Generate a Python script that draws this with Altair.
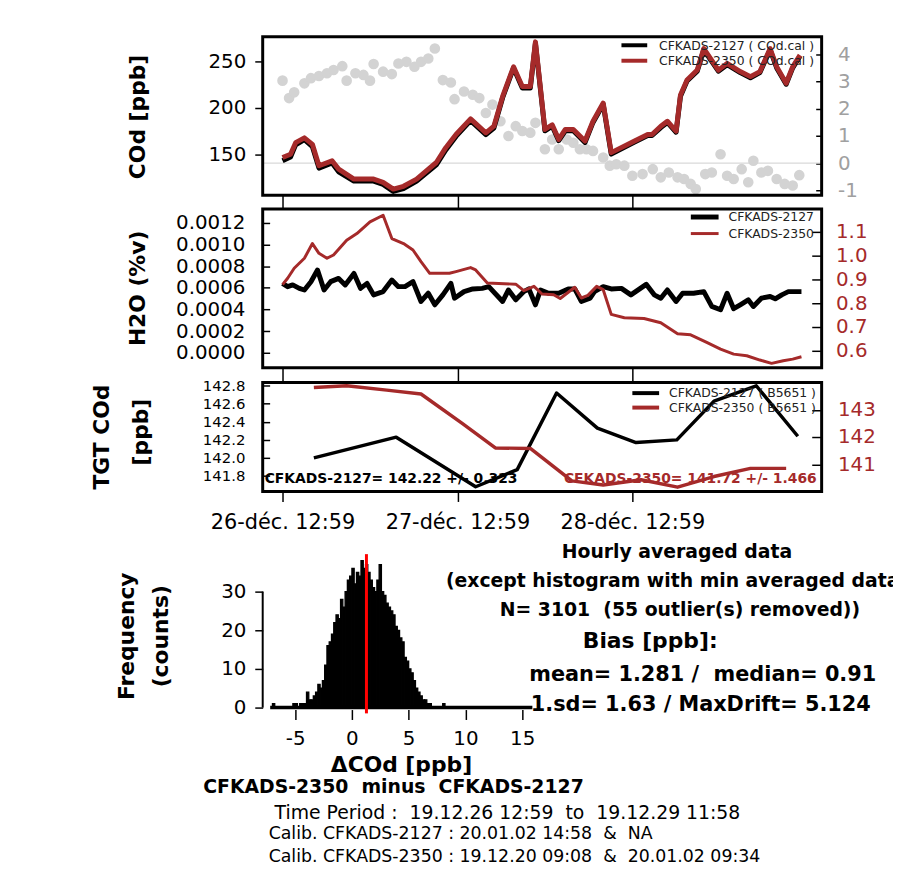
import altair as alt
import pandas as pd

# ---------------- data ----------------
TICK_HOURS = [0, 24, 48]
TICK_LABELS = ["26-déc. 12:59", "27-déc. 12:59", "28-déc. 12:59"]

cod_hours = [0, 1.1, 1.8, 3.0, 4.1, 5.0, 6.8, 7.7, 9.8, 12.5, 13.8, 15.2, 16.6, 18.4, 21.1, 22.4, 23.8, 25.8,
             27.9, 29.0, 30.2, 31.7, 32.9, 34.0, 34.7, 36.0, 37.0, 37.9, 38.8, 39.9, 41.5, 42.6, 44.0, 45.1,
             48.3, 50.1, 50.7, 51.9, 52.8, 54.0, 54.6, 55.5, 56.9, 57.8, 59.8, 61.0, 62.8, 64.2, 65.5, 66.9,
             67.8, 69.1, 70.0, 71.0]
cod_2350 = [146.8, 150.3, 162.8, 168.0, 161.0, 138.0, 143.3, 134.4, 123.7, 123.7, 120.2, 113.0, 116.0, 123.7,
            141.5, 157.4, 171.6, 188.3, 173.4, 180.5, 212.4, 244.3, 223.0, 223.0, 271.0, 177.0, 182.0, 166.3,
            177.0, 177.0, 164.6, 185.8, 205.3, 152.1, 164.6, 171.6, 171.6, 180.5, 185.8, 175.2, 214.0, 230.0,
            240.7, 263.8, 240.7, 247.9, 239.1, 233.7, 239.1, 263.8, 244.3, 226.6, 244.3, 256.7]
cod_2127 = [143.5, 147.5, 160.5, 166.0, 158.5, 135.5, 141.0, 131.5, 121.5, 121.5, 118.0, 110.5, 113.5, 121.5,
            139.0, 155.0, 169.5, 186.5, 171.5, 178.5, 211.0, 243.0, 221.5, 221.5, 269.5, 175.5, 180.5, 165.0,
            175.5, 175.5, 163.0, 184.5, 204.0, 150.5, 163.5, 170.5, 170.5, 179.0, 184.5, 174.0, 212.5, 229.0,
            239.5, 262.5, 239.5, 246.5, 238.0, 232.5, 238.0, 262.5, 243.0, 225.5, 243.0, 255.5]

diff_hours = [0, 0.9, 1.6, 3.0, 3.9, 5.0, 6.1, 7.0, 8.2, 8.8, 10.0, 11.1, 12.0, 12.5, 13.8, 15.0, 15.9, 17.0,
              18.1, 19.0, 20.0, 20.9, 22.0, 23.1, 23.6, 24.9, 26.1, 27.0, 27.9, 28.8, 29.9, 31.0, 32.0, 32.9,
              34.0, 34.7, 36.0, 37.0, 37.9, 39.0, 39.9, 40.8, 41.7, 42.6, 44.0, 44.9, 45.8, 46.9, 48.0, 49.4,
              50.8, 51.9, 53.0, 54.2, 55.1, 56.0, 56.7, 58.0, 58.9, 60.1, 61.0, 61.9, 63.0, 63.9, 64.6, 65.7,
              66.6, 67.8, 68.9, 70.0, 70.9]
diff_vals = [3.03, 2.39, 2.6, 2.93, 3.12, 3.2, 3.3, 3.42, 3.56, 3.03, 3.3, 3.24, 3.03, 3.64, 3.36, 3.27, 3.66,
             3.72, 3.54, 3.72, 3.84, 4.21, 3.05, 2.96, 2.35, 2.63, 2.51, 2.39, 1.84, 2.15, 1.54, 1.0, 1.36,
             1.18, 1.12, 1.48, 0.51, 0.87, 0.51, 0.87, 0.75, 0.51, 0.51, 0.45, 0.21, -0.09, -0.04, -0.09,
             -0.46, -0.4, -0.22, -0.52, -0.34, -0.52, -0.58, -0.76, -0.95, -0.4, -0.34, 0.33, -0.46, -0.58,
             -0.22, -0.7, 0.09, -0.34, -0.28, -0.58, -0.76, -0.82, -0.44]

h2o_2127_hours = [0, 0.7, 1.4, 2.3, 3.0, 3.9, 4.8, 5.7, 6.6, 7.7, 8.6, 9.8, 10.7, 11.6, 12.5, 13.8, 15.0, 15.9,
                  16.8, 17.9, 19.0, 20.0, 20.9, 22.0, 23.1, 23.6, 24.9, 26.1, 27.4, 28.3, 30.2, 31.0, 32.0,
                  33.1, 33.8, 34.7, 35.4, 36.5, 37.9, 39.2, 40.1, 41.0, 42.2, 42.8, 44.0, 45.1, 46.5, 47.8,
                  49.9, 51.0, 51.9, 52.8, 54.0, 54.9, 56.4, 57.8, 58.9, 60.1, 61.0, 61.9, 62.8, 63.9, 64.6,
                  65.7, 66.9, 67.6, 68.5, 69.4, 71.2]
h2o_2127 = [0.000641, 0.000611, 0.000627, 0.000595, 0.00058, 0.000657, 0.000764, 0.00058, 0.000657, 0.000687,
            0.000627, 0.000733, 0.000595, 0.000641, 0.000535, 0.000565, 0.000672, 0.000611, 0.000611,
            0.000657, 0.000474, 0.00055, 0.000443, 0.000535, 0.000641, 0.000504, 0.000565, 0.00059, 0.000595,
            0.000611, 0.000474, 0.00058, 0.000489, 0.000565, 0.00059, 0.000443, 0.00058, 0.00055, 0.00055,
            0.00059, 0.00059, 0.000474, 0.000504, 0.000565, 0.000611, 0.00059, 0.000595, 0.000535, 0.000632,
            0.000535, 0.000504, 0.00058, 0.000474, 0.00055, 0.00055, 0.000565, 0.000428, 0.000397, 0.00055,
            0.000407, 0.000443, 0.000489, 0.000428, 0.000504, 0.00052, 0.000498, 0.000535, 0.000565, 0.000565]
h2o_2350_hours = [0, 0.7, 1.6, 3.0, 4.1, 5.0, 6.1, 7.0, 8.8, 10.2, 12.0, 13.8, 15.0, 16.6, 17.9, 19.0, 20.2,
                  22.0, 22.9, 23.8, 25.8, 26.5, 28.1, 32.0, 33.1, 34.5, 35.6, 37.2, 38.1, 40.1, 41.0, 41.9,
                  43.1, 44.0, 45.1, 46.9, 49.6, 51.9, 54.2, 56.0, 58.2, 60.1, 61.9, 63.7, 65.5, 67.1, 68.7,
                  70.0, 71.2]
h2o_2350 = [0.878, 0.905, 0.947, 0.989, 1.051, 1.01, 0.989, 1.003, 1.065, 1.093, 1.142, 1.17, 1.072, 1.051,
            1.024, 0.975, 0.926, 0.926, 0.926, 0.933, 0.95, 0.94, 0.885, 0.88, 0.853, 0.871, 0.839, 0.836,
            0.82, 0.867, 0.822, 0.833, 0.871, 0.857, 0.753, 0.739, 0.736, 0.718, 0.672, 0.667, 0.635, 0.607,
            0.586, 0.579, 0.561, 0.547, 0.558, 0.565, 0.575]

tgt_2127_hours = [4.3, 15.6, 26.5, 32.2, 37.6, 43.2, 48.5, 54.1, 59.2, 65.0, 70.7]
tgt_2127 = [142.0, 142.23, 141.68, 141.87, 142.72, 142.33, 142.17, 142.2, 142.63, 142.8, 142.24]
tgt_2350_hours = [4.3, 8.8, 14.3, 19.0, 24.7, 29.2, 34.0, 39.7, 44.0, 49.2, 54.2, 59.2, 64.2, 69.1]
tgt_2350 = [143.82, 143.88, 143.72, 143.58, 142.49, 141.6, 141.58, 140.39, 140.24, 140.43, 140.16, 140.55,
            140.85, 140.85]

HIST_START = -7.0
HIST_BIN = 0.2
hist_counts = [1, 0, 0, 0, 0, 0, 0, 0, 0, 1, 1, 0, 1, 1, 1, 4, 2, 2, 3, 4, 6, 5, 7, 11, 16, 17, 19, 22, 24, 23,
               28, 26, 30, 33, 34, 36, 32, 35, 34, 38, 36, 37, 35, 33, 31, 30, 33, 37, 30, 29, 27, 26, 25, 24,
               21, 20, 18, 17, 13, 12, 10, 9, 7, 5, 4, 3, 2, 2, 1, 1, 0, 0, 0, 0, 0, 1]
HIST_RANGE = [-7.2, 15.9]
MEAN_BIAS = 1.281

# ---------------- layout / style ----------------
FONT = "DejaVu Sans"
RED = "#a52a2a"
GREY = "#d3d3d3"
CW, CH = 893, 864
PX = [257, 821]
XDOM = [-2.72, 73.97]
NB = "\u00a0"


def keep_spaces(s):
    # keep the double spaces of the original (SVG collapses plain runs of spaces)
    return s.replace("  ", " " + NB)


def xscale():
    return alt.Scale(domain=XDOM, range=PX, nice=False, zero=False)


def label_expr_time():
    parts = []
    for h, s in zip(TICK_HOURS[:-1], TICK_LABELS[:-1]):
        parts.append(f"datum.value == {h} ? '{s}' : ")
    return "".join(parts) + f"'{TICK_LABELS[-1]}'"


def taxis(offset, size, labels):
    kw = dict(orient="bottom", offset=offset, values=TICK_HOURS, tickSize=size, tickWidth=1.5,
              tickColor="black", domain=False, grid=False, title=None, labels=labels,
              labelOverlap=False, labelFlush=False)
    if labels:
        kw.update(labelExpr=label_expr_time(), labelFont=FONT, labelFontSize=21, labelColor="black",
                  labelPadding=10)
    return alt.Axis(**kw)


def yaxis(orient, offset, values, size, pad, expr, color="black", fsize=20):
    return alt.Axis(orient=orient, offset=offset, values=values, tickSize=size, tickWidth=1.5,
                    tickColor="black", domain=False, grid=False, title=None, labelExpr=expr,
                    labelFont=FONT, labelFontSize=fsize, labelColor=color, labelPadding=pad,
                    labelOverlap=False, labelFlush=False)


def yscale(domain, rng):
    return alt.Scale(domain=domain, range=rng, nice=False, zero=False)


def df(**cols):
    return pd.DataFrame(cols)


def text(s, x, y, size, bold=False, angle=0, align="center", color="black", baseline="middle"):
    props = dict(x=x, y=y, fontSize=size, font=FONT, align=align, baseline=baseline, color=color,
                 fontWeight="bold" if bold else "normal")
    if angle:
        props["angle"] = angle
    return alt.Chart(df(t=[keep_spaces(s)])).mark_text(**props).encode(text="t:N")


def leg_line(x0, x1, y, color, w):
    return alt.Chart(df(k=[0])).mark_rule(color=color, strokeWidth=w).encode(
        x=alt.value(x0), x2=alt.value(x1), y=alt.value(y))


def frame(y0, y1):
    return alt.Chart(df(k=[0])).mark_rect(fillOpacity=0, stroke="black", strokeWidth=3).encode(
        x=alt.value(PX[0]), x2=alt.value(PX[1]), y=alt.value(y0), y2=alt.value(y1))


layers = []

# ---------- panel 1 : COd ----------
T_RNG = [185, 25]
T_LDOM = [106.4, 276.6]
T_RDOM = [-1.175, 4.644]
layers.append(
    alt.Chart(df(a=[XDOM[0]], b=[XDOM[1]], y=[0])).mark_rule(color="#d9d9d9", strokeWidth=1.2).encode(
        x=alt.X("a:Q", scale=xscale(), axis=None), x2="b:Q",
        y=alt.Y("y:Q", scale=yscale(T_RDOM, T_RNG), axis=None)))
layers.append(
    alt.Chart(df(h=diff_hours, v=diff_vals)).mark_circle(size=115, color=GREY, opacity=1).encode(
        x=alt.X("h:Q", scale=xscale(), axis=None),
        y=alt.Y("v:Q", scale=yscale(T_RDOM, T_RNG),
                axis=yaxis("right", 815 - CW, [-1, 0, 1, 2, 3, 4], 6, 16, "'' + datum.value", "#a0a0a0"))))
layers.append(
    alt.Chart(df(h=cod_hours, v=cod_2127)).mark_line(color="black", strokeWidth=5, strokeJoin="round").encode(
        x=alt.X("h:Q", scale=xscale(), axis=taxis(185 - CH, 14, False)),
        y=alt.Y("v:Q", scale=yscale(T_LDOM, T_RNG),
                axis=yaxis("left", -257, [150, 200, 250], 8, 9, "'' + datum.value"))))
layers.append(
    alt.Chart(df(h=cod_hours, v=cod_2350)).mark_line(color=RED, strokeWidth=5, strokeJoin="round").encode(
        x=alt.X("h:Q", scale=xscale(), axis=None),
        y=alt.Y("v:Q", scale=yscale(T_LDOM, T_RNG), axis=None)))
layers.append(frame(25, 185))
layers += [leg_line(619, 645, 33.7, "black", 4), leg_line(619, 645, 49.3, RED, 4),
           text("CFKADS-2127 ( COd.cal )", 657, 34, 12.5, align="left", color="#222222"),
           text("CFKADS-2350 ( COd.cal )", 657, 50, 12.5, align="left", color="#222222")]

# ---------- panel 2 : H2O ----------
H_RNG = [359, 199]
H_LDOM = [-0.000138, 0.001328]
H_RDOM = [0.529, 1.196]
layers.append(
    alt.Chart(df(h=h2o_2127_hours, v=h2o_2127)).mark_line(color="black", strokeWidth=5, strokeJoin="round").encode(
        x=alt.X("h:Q", scale=xscale(), axis=taxis(359 - CH, 14, False)),
        y=alt.Y("v:Q", scale=yscale(H_LDOM, H_RNG),
                axis=yaxis("left", -264, [0, 0.0002, 0.0004, 0.0006, 0.0008, 0.0010, 0.0012], 7, 18,
                           "format(datum.value, '.4f')"))))
layers.append(
    alt.Chart(df(h=h2o_2350_hours, v=h2o_2350)).mark_line(color=RED, strokeWidth=3, strokeJoin="round").encode(
        x=alt.X("h:Q", scale=xscale(), axis=None),
        y=alt.Y("v:Q", scale=yscale(H_RDOM, H_RNG),
                axis=yaxis("right", 811 - CW, [0.6, 0.7, 0.8, 0.9, 1.0, 1.1], 10, 14,
                           "format(datum.value, '.1f')", RED))))
layers.append(frame(199, 359))
layers += [leg_line(689, 717, 207, "black", 5), leg_line(689, 717, 223.7, RED, 3),
           text("CFKADS-2127", 727, 207.5, 12.5, align="left", color="#222222"),
           text("CFKADS-2350", 727, 224, 12.5, align="left", color="#222222")]

# ---------- panel 3 : TGT ----------
G_RNG = [484, 374]
G_LDOM = [141.627, 142.836]
G_RDOM = [140.0, 144.0]
layers.append(
    alt.Chart(df(h=tgt_2127_hours, v=tgt_2127)).mark_line(color="black", strokeWidth=3.5, strokeJoin="round").encode(
        x=alt.X("h:Q", scale=xscale(), axis=taxis(484 - CH, 10, True)),
        y=alt.Y("v:Q", scale=yscale(G_LDOM, G_RNG),
                axis=yaxis("left", -264, [141.8, 142.0, 142.2, 142.4, 142.6, 142.8], 7, 18,
                           "format(datum.value, '.1f')", fsize=15))))
layers.append(
    alt.Chart(df(h=tgt_2350_hours, v=tgt_2350)).mark_line(color=RED, strokeWidth=3.5, strokeJoin="round").encode(
        x=alt.X("h:Q", scale=xscale(), axis=None),
        y=alt.Y("v:Q", scale=yscale(G_RDOM, G_RNG),
                axis=yaxis("right", 811 - CW, [141, 142, 143], 10, 16, "'' + datum.value", RED))))
layers.append(frame(374, 484))
layers += [leg_line(630, 657, 384.7, "black", 4), leg_line(630, 657, 399.3, RED, 4),
           text("CFKADS-2127 ( B5651 )", 667, 385, 12.5, align="left", color="#222222"),
           text("CFKADS-2350 ( B5651 )", 667, 400, 12.5, align="left", color="#222222"),
           text("CFKADS-2127= 142.22 +/- 0.323", 259, 475, 14, bold=True, align="left", baseline="alphabetic"),
           text("CFKADS-2350= 141.72 +/- 1.466", 816, 475, 14, bold=True, align="right",
                baseline="alphabetic", color=RED)]

# ---------- histogram ----------
HX_RNG = [257, 541.7]
HX_DOM = [-7.86, 17.0]
HY_RNG = [711.75, 544.05]
HY_DOM = [-2.5, 40.5]
bin_lo = [round(HIST_START + i * HIST_BIN, 2) for i in range(len(hist_counts))]
bin_hi = [round(b + HIST_BIN, 2) for b in bin_lo]
hist_df = df(lo=bin_lo, hi=bin_hi, n=hist_counts, z=[0] * len(hist_counts))
hxs = lambda: alt.Scale(domain=HX_DOM, range=HX_RNG, nice=False, zero=False)
hys = lambda: yscale(HY_DOM, HY_RNG)
layers.append(
    alt.Chart(hist_df).mark_rect(color="black", stroke="black", strokeWidth=1.3).encode(
        x=alt.X("lo:Q", scale=hxs(),
                axis=alt.Axis(orient="bottom", offset=704 - CH, values=[-5, 0, 5, 10, 15], tickSize=10,
                              tickWidth=1.5, tickColor="black", domain=False, grid=False, title=None,
                              labelExpr="'' + datum.value", labelFont=FONT, labelFontSize=20,
                              labelColor="black", labelPadding=9, labelOverlap=False, labelFlush=False)),
        x2="hi:Q",
        y=alt.Y("n:Q", scale=hys(),
                axis=yaxis("left", -257, [0, 10, 20, 30], 8, 9, "'' + datum.value")),
        y2="z:Q"))
layers.append(
    alt.Chart(df(a=[HIST_RANGE[0]], b=[HIST_RANGE[1]], y=[0])).mark_rule(color="black", strokeWidth=3.5).encode(
        x=alt.X("a:Q", scale=hxs(), axis=None), x2="b:Q",
        y=alt.Y("y:Q", scale=hys(), axis=None)))
layers.append(
    alt.Chart(df(a=[0], b=[30])).mark_rule(color="black", strokeWidth=2).encode(
        x=alt.value(PX[0]), y=alt.Y("a:Q", scale=hys(), axis=None), y2="b:Q"))
layers.append(
    alt.Chart(df(m=[MEAN_BIAS], a=[-1.5], b=[39.7])).mark_rule(color="#ff0000", strokeWidth=3).encode(
        x=alt.X("m:Q", scale=hxs(), axis=None),
        y=alt.Y("a:Q", scale=hys(), axis=None), y2="b:Q"))

# ---------- titles & annotations ----------
layers += [
    text("COd [ppb]", 131, 106, 22, bold=True, angle=270),
    text("H2O (%v)", 131, 279, 22, bold=True, angle=270),
    text("TGT COd", 95, 429, 22, bold=True, angle=270),
    text("[ppb]", 134, 424, 22, bold=True, angle=270),
    text("Frequency", 120, 630, 22, bold=True, angle=270),
    text("(counts)", 154, 630, 22, bold=True, angle=270),
    text("ΔCOd [ppb]", 397, 760, 22, bold=True),
    text("CFKADS-2350  minus  CFKADS-2127", 197, 782, 19, bold=True, align="left"),
    text("Time Period :  19.12.26 12:59  to  19.12.29 11:58", 269, 808, 19, align="left"),
    text("Calib. CFKADS-2127 : 20.01.02 14:58  &  NA", 263, 830, 17.5, align="left"),
    text("Calib. CFKADS-2350 : 19.12.20 09:08  &  20.01.02 09:34", 263, 853, 17.5, align="left"),
    text("Hourly averaged data", 675, 545, 19, bold=True),
    text("(except histogram with min averaged data)", 675, 574, 19, bold=True),
    text("N= 3101  (55 outlier(s) removed))", 678, 604, 19, bold=True),
    text("Bias [ppb]:", 648, 635, 22, bold=True),
    text("mean= 1.281 /  median= 0.91", 701, 669, 21, bold=True),
    text("1.sd= 1.63 / MaxDrift= 5.124", 699, 699, 21, bold=True),
]

chart = alt.layer(*layers).resolve_scale(x="independent", y="independent").properties(
    width=CW, height=CH, autosize=alt.AutoSizeParams(type="none"), padding=0
).configure_view(strokeWidth=0)

chart.save("out.html", embed_options={"renderer": "svg", "actions": False})
